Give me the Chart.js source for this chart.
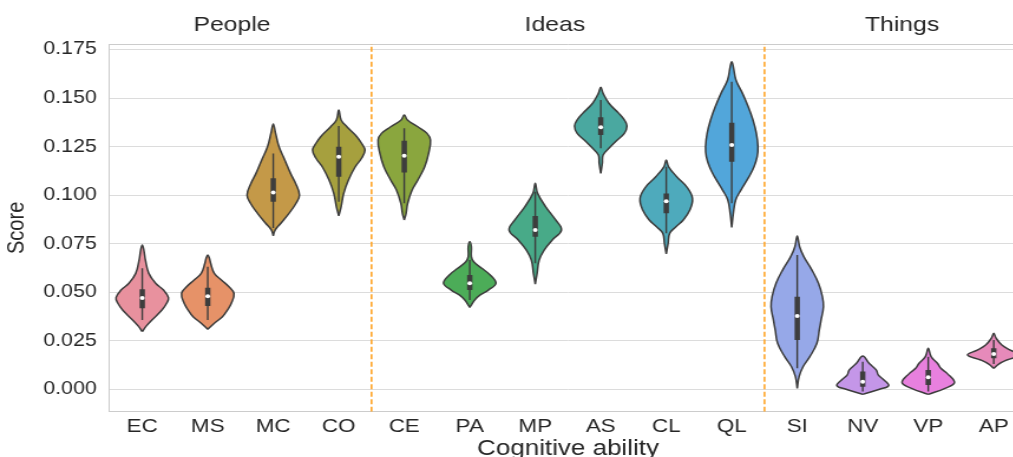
<!DOCTYPE html>
<html>
<head>
<meta charset="utf-8">
<title>Cognitive ability scores</title>
<script src="https://cdn.jsdelivr.net/npm/chart.js@4.4.0/dist/chart.umd.min.js"></script>
<style>
  html, body { margin: 0; padding: 0; background: #fff; overflow: hidden; width: 1013px; height: 457px; }
  /* the source figure is stretched sideways, so the whole canvas is too */
  #wrap { position: relative; width: 880px; height: 457px; transform: scaleX(1.18); transform-origin: 0 0; }
</style>
</head>
<body>
<div id="wrap"><canvas id="violinChart"></canvas></div>
<script>
        // Data
        const categories = ['EC', 'MS', 'MC', 'CO', 'CE', 'PA', 'MP', 'AS', 'CL', 'QL', 'SI', 'NV', 'VP', 'AP'];
        const groups = ['People', 'Ideas', 'Things'];
        const groupLabelX = [1.37, 6.3, 11.6];
        const dividers = [3.5, 9.5];
        const yTickValues = [0, 0.025, 0.05, 0.075, 0.1, 0.125, 0.15, 0.175];

        const violinColors = ['#e8919e', '#e69268', '#c49948', '#a6a03e', '#8aa63e', '#4cac58', '#48aa88',
                              '#4aa8a0', '#4eaabc', '#52a6da', '#96a8e8', '#c496e8', '#e880de', '#e68aba'];

        // inner box: whisker ends, quartiles, median
        const whiskerLow  = [0.0357, 0.0357, 0.0831, 0.0966, 0.0958, 0.0460, 0.0649, 0.1241, 0.0803, 0.0958, 0.0108, -0.0012, -0.0012, 0.0130];
        const q1          = [0.0417, 0.0429, 0.0966, 0.1095, 0.1116, 0.0511, 0.0786, 0.1310, 0.0906, 0.1172, 0.0254, 0.0013, 0.0022, 0.0160];
        const median      = [0.0470, 0.0479, 0.1013, 0.1198, 0.1203, 0.0546, 0.0820, 0.1349, 0.0968, 0.1258, 0.0377, 0.0039, 0.0062, 0.0182];
        const q3          = [0.0515, 0.0523, 0.1087, 0.1249, 0.1280, 0.0589, 0.0893, 0.1401, 0.1009, 0.1373, 0.0477, 0.0091, 0.0099, 0.0211];
        const whiskerHigh = [0.0623, 0.0631, 0.1215, 0.1356, 0.1344, 0.0666, 0.1018, 0.1490, 0.1146, 0.1584, 0.0692, 0.0142, 0.0168, 0.0254];

        // violin outlines: score values (bottom to top) and relative density at each
        const profileValues = [
            [0.0297, 0.0325, 0.0357, 0.0408, 0.0443, 0.0472, 0.0511, 0.0546, 0.0597, 0.0666, 0.0717, 0.0743],
            [0.0309, 0.0340, 0.0374, 0.0408, 0.0443, 0.0494, 0.0528, 0.0563, 0.0597, 0.0649, 0.0676, 0.0692],
            [0.0790, 0.0820, 0.0855, 0.0906, 0.0958, 0.1001, 0.1061, 0.1112, 0.1181, 0.1249, 0.1318, 0.1366],
            [0.0893, 0.0940, 0.1009, 0.1078, 0.1146, 0.1190, 0.1232, 0.1267, 0.1301, 0.1352, 0.1387, 0.1438],
            [0.0872, 0.0906, 0.0958, 0.1026, 0.1078, 0.1146, 0.1215, 0.1284, 0.1318, 0.1352, 0.1387, 0.1413],
            [0.0422, 0.0434, 0.0460, 0.0486, 0.0511, 0.0546, 0.0589, 0.0623, 0.0657, 0.0683, 0.0734, 0.0760],
            [0.0542, 0.0597, 0.0666, 0.0717, 0.0769, 0.0820, 0.0872, 0.0940, 0.1009, 0.1061],
            [0.1112, 0.1164, 0.1207, 0.1241, 0.1275, 0.1318, 0.1356, 0.1387, 0.1421, 0.1473, 0.1524, 0.1555],
            [0.0697, 0.0752, 0.0803, 0.0837, 0.0872, 0.0923, 0.0984, 0.1043, 0.1095, 0.1146, 0.1181],
            [0.0834, 0.0906, 0.0975, 0.1026, 0.1095, 0.1146, 0.1198, 0.1249, 0.1318, 0.1387, 0.1455, 0.1524, 0.1593, 0.1661, 0.1687],
            [0.0005, 0.0065, 0.0116, 0.0168, 0.0237, 0.0305, 0.0357, 0.0425, 0.0477, 0.0546, 0.0614, 0.0683, 0.0734, 0.0790],
            [-0.0026, 0.0000, 0.0019, 0.0048, 0.0074, 0.0099, 0.0134, 0.0171],
            [-0.0026, 0.0005, 0.0034, 0.0082, 0.0108, 0.0134, 0.0168, 0.0211],
            [0.0108, 0.0130, 0.0151, 0.0177, 0.0202, 0.0228, 0.0263, 0.0288]
        ];
        const profileDensity = [
            [0, 0.15, 0.37, 0.75, 0.93, 1, 0.81, 0.51, 0.25, 0.12, 0.06, 0],
            [0, 0.25, 0.56, 0.75, 0.9, 1, 0.81, 0.52, 0.25, 0.11, 0.06, 0],
            [0, 0.07, 0.29, 0.6, 0.87, 1, 0.85, 0.66, 0.44, 0.22, 0.09, 0],
            [0, 0.09, 0.19, 0.37, 0.63, 0.87, 1, 0.87, 0.69, 0.31, 0.09, 0],
            [0, 0.07, 0.13, 0.3, 0.52, 0.78, 0.93, 1, 0.87, 0.52, 0.12, 0],
            [0, 0.06, 0.19, 0.4, 0.71, 1, 0.78, 0.46, 0.15, 0.06, 0.06, 0],
            [0, 0.07, 0.15, 0.34, 0.65, 1, 0.78, 0.4, 0.09, 0],
            [0, 0.06, 0.09, 0.31, 0.56, 0.9, 1, 0.9, 0.69, 0.31, 0.09, 0],
            [0, 0.07, 0.13, 0.37, 0.65, 0.9, 1, 0.78, 0.4, 0.09, 0],
            [0, 0.06, 0.15, 0.35, 0.66, 0.85, 0.97, 1, 0.94, 0.81, 0.63, 0.41, 0.16, 0.06, 0],
            [0, 0.07, 0.22, 0.48, 0.75, 0.84, 0.91, 1, 0.96, 0.81, 0.56, 0.25, 0.09, 0],
            [0, 0.64, 0.99, 0.81, 0.59, 0.52, 0.24, 0],
            [0, 0.64, 1, 0.72, 0.48, 0.35, 0.11, 0],
            [0, 0.19, 0.5, 1, 0.63, 0.31, 0.09, 0]
        ];

        const yMin = -0.01154;
        const yMax = 0.17783;
        const maxHalfWidth = 0.4;   // seaborn width=0.8
        const fontFamily = '"Liberation Sans", Arial, sans-serif';
        const textColor = '#262626';
        const edgeColor = '#3c3c3c';

        // Violin bodies: left side going up, right side coming back down
        const violinSets = categories.map((cat, i) => {
            const vals = profileValues[i];
            const dens = profileDensity[i];
            const left = vals.map((v, k) => ({ x: i - maxHalfWidth * dens[k], y: v }));
            const right = vals.map((v, k) => ({ x: i + maxHalfWidth * dens[k], y: v })).reverse().slice(1);
            return {
                label: cat,
                data: left.concat(right),
                borderColor: edgeColor,
                borderWidth: 1.5,
                backgroundColor: violinColors[i],
                fill: 'shape',
                tension: 0.4,
                pointRadius: 0,
                order: 3
            };
        });

        function verticalSegments(lo, hi) {
            const pts = [];
            categories.forEach((c, i) => {
                pts.push({ x: i, y: lo[i] }, { x: i, y: hi[i] }, { x: i, y: null });
            });
            return pts;
        }

        const dividerData = [];
        dividers.forEach(d => {
            dividerData.push({ x: d, y: yMin }, { x: d, y: yMax }, { x: d, y: null });
        });

        // Groups above the plot, plus the top spine
        const decorPlugin = {
            id: 'decor',
            beforeDatasetsDraw(chart) {
                const { ctx, chartArea } = chart;
                ctx.save();
                ctx.strokeStyle = '#cccccc';
                ctx.lineWidth = 1;
                ctx.beginPath();
                ctx.moveTo(chartArea.left, chartArea.top + 0.5);
                ctx.lineTo(chartArea.right, chartArea.top + 0.5);
                ctx.stroke();
                ctx.restore();
            },
            afterDraw(chart) {
                const { ctx } = chart;
                const xScale = chart.scales.x;
                ctx.save();
                ctx.font = '21px ' + fontFamily;
                ctx.fillStyle = textColor;
                ctx.textAlign = 'center';
                ctx.textBaseline = 'alphabetic';
                groups.forEach((g, k) => {
                    ctx.fillText(g, xScale.getPixelForValue(groupLabelX[k]), 31.3);
                });
                ctx.restore();
            }
        };

        const ctx = document.getElementById('violinChart').getContext('2d');
        const violinChart = new Chart(ctx, {
            type: 'line',
            data: {
                datasets: [
                    {
                        label: 'median',
                        data: categories.map((c, i) => ({ x: i, y: median[i] })),
                        showLine: false,
                        pointRadius: 2,
                        pointBackgroundColor: '#ffffff',
                        pointBorderWidth: 0,
                        order: 0
                    },
                    {
                        label: 'box',
                        data: verticalSegments(q1, q3),
                        borderColor: '#3d3d3d',
                        borderWidth: 4.5,
                        borderCapStyle: 'butt',
                        pointRadius: 0,
                        fill: false,
                        order: 1
                    },
                    {
                        label: 'whisker',
                        data: verticalSegments(whiskerLow, whiskerHigh),
                        borderColor: '#3d3d3d',
                        borderWidth: 1.4,
                        pointRadius: 0,
                        fill: false,
                        order: 2
                    },
                    ...violinSets,
                    {
                        label: 'divider',
                        data: dividerData,
                        borderColor: '#ffa62b',
                        borderWidth: 1.6,
                        borderDash: [5, 2.5],
                        pointRadius: 0,
                        fill: false,
                        order: 4
                    }
                ]
            },
            options: {
                responsive: true,
                maintainAspectRatio: false,
                animation: false,
                events: [],
                layout: { padding: { left: 0, right: 10.1, top: 44, bottom: 0 } },
                plugins: {
                    legend: { display: false },
                    tooltip: { enabled: false }
                },
                scales: {
                    x: {
                        type: 'linear',
                        min: -0.5,
                        max: 13.5,
                        afterBuildTicks: s => { s.ticks = categories.map((c, i) => ({ value: i })); },
                        afterFit: s => { s.height = 45.3; },
                        ticks: {
                            autoSkip: false,
                            maxRotation: 0,
                            padding: 4,
                            color: textColor,
                            font: { family: fontFamily, size: 19 },
                            callback: v => categories[v]
                        },
                        grid: { display: false, drawTicks: false },
                        border: { display: true, color: '#cccccc', width: 1 },
                        title: {
                            display: true,
                            text: 'Cognitive ability',
                            color: textColor,
                            font: { family: fontFamily, size: 22, lineHeight: 0.75 },
                            padding: 0
                        }
                    },
                    y: {
                        min: yMin,
                        max: yMax,
                        afterBuildTicks: s => { s.ticks = yTickValues.map(v => ({ value: v })); },
                        afterFit: s => { s.width = 92.8; },
                        ticks: {
                            padding: 10.9,
                            color: textColor,
                            font: { family: fontFamily, size: 18 },
                            callback: v => Number(v).toFixed(3)
                        },
                        grid: { color: '#dcdcdc', lineWidth: 1, drawTicks: false },
                        border: { display: true, color: '#cccccc', width: 1 },
                        title: {
                            display: true,
                            text: 'Score',
                            color: textColor,
                            font: { family: fontFamily, size: 20 },
                            padding: { top: 2, bottom: 0 }
                        }
                    }
                }
            },
            plugins: [decorPlugin]
        });
</script>
</body>
</html>
